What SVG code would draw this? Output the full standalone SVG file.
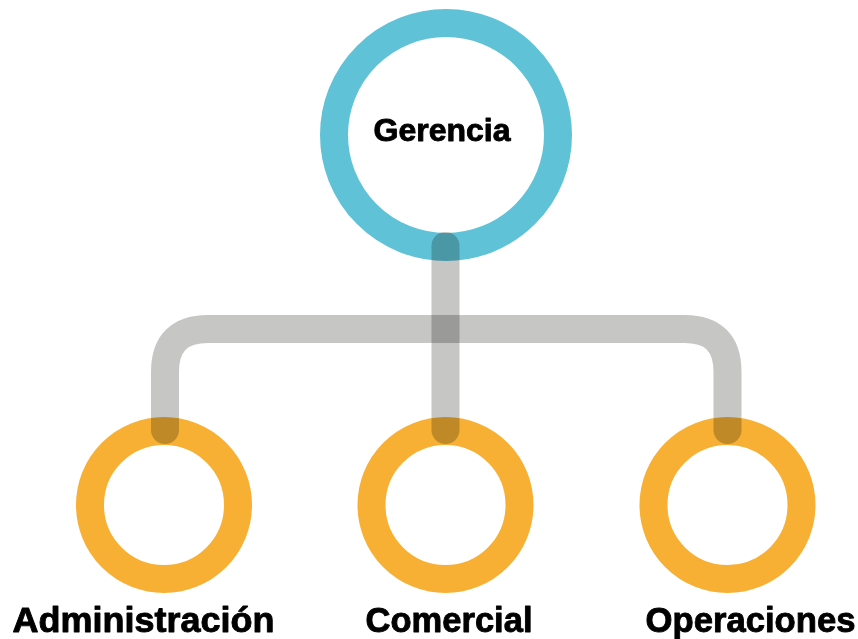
<svg xmlns="http://www.w3.org/2000/svg" width="858" height="639" viewBox="0 0 858 639">
<style>
.ring{fill:none;stroke-width:28}
.top{stroke:#5FC2D7}
.sub{stroke:#F7B033}
.conn{fill:none;stroke:#C6C6C5;stroke-width:28;stroke-linecap:round;stroke-linejoin:round;mix-blend-mode:multiply}
.lbl{font-family:"Liberation Sans",Arial,sans-serif;font-weight:bold;fill:#000;stroke:#000;stroke-width:0.9;stroke-linejoin:round;text-anchor:middle}
</style>
<rect width="858" height="639" fill="#fff"/>
<g id="gerencia">
<circle class="ring top" cx="446" cy="135" r="112"/>
<text class="lbl" x="442" y="141" font-size="32" textLength="137" lengthAdjust="spacingAndGlyphs">Gerencia</text>
</g>
<g id="administracion">
<circle class="ring sub" cx="164" cy="505" r="74"/>
<text class="lbl" x="143.5" y="632" font-size="35" textLength="262" lengthAdjust="spacingAndGlyphs">Administración</text>
</g>
<g id="comercial">
<circle class="ring sub" cx="445.5" cy="505" r="74"/>
<text class="lbl" x="449" y="632" font-size="35" textLength="167" lengthAdjust="spacingAndGlyphs">Comercial</text>
</g>
<g id="operaciones">
<circle class="ring sub" cx="727.5" cy="505" r="74"/>
<text class="lbl" x="750.5" y="632" font-size="35" textLength="210" lengthAdjust="spacingAndGlyphs">Operaciones</text>
</g>
<g id="connectors">
<path class="conn" d="M445.5 246 V430"/>
<path class="conn" d="M165 430 V372 Q165 329 208 329 H684.5 Q727.5 329 727.5 372 V430"/>
</g>
</svg>
